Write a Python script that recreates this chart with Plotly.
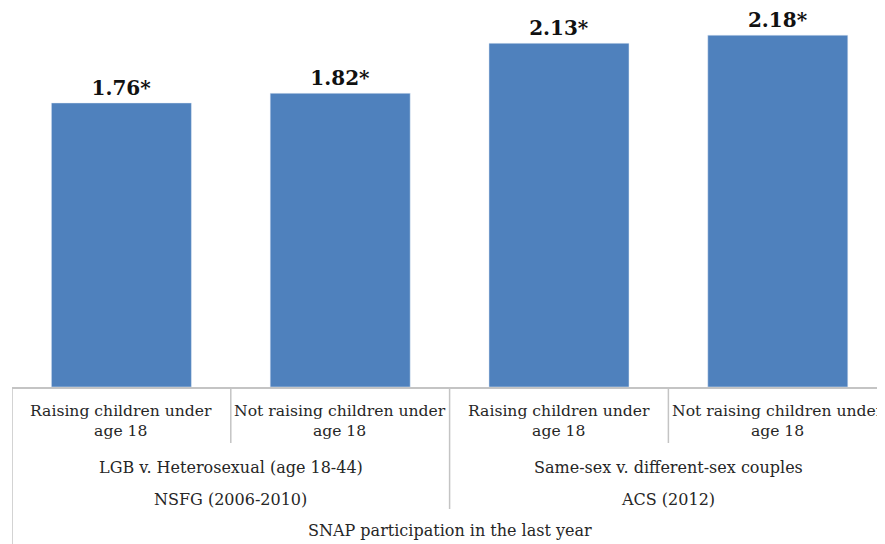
import plotly.graph_objects as go

categories = ["Raising children under<br>age 18", "Not raising children under<br>age 18",
              "Raising children under<br>age 18", "Not raising children under<br>age 18"]
values = [1.76, 1.82, 2.13, 2.18]
value_labels = ["1.76*", "1.82*", "2.13*", "2.18*"]
group_labels = ["LGB v. Heterosexual (age 18-44)", "Same-sex v. different-sex couples"]
source_labels = ["NSFG (2006-2010)", "ACS (2012)"]
outcome_label = "SNAP participation in the last year"

# the page body has an 8px margin, so the figure is offset by 8px
OFF = 8
W, H = 885 - OFF, 544 - OFF
PLOT_BOTTOM = 387 - OFF          # in figure pixels
PLOT_H = PLOT_BOTTOM
FONT = "DejaVu Serif"
TXT = "#262626"
GRID = "#c4c4c4"
PX_PER_UNIT = 161.4


def py(page_y):
    return (PLOT_BOTTOM - (page_y - OFF)) / PLOT_H


xs = list(range(len(values)))
fig = go.Figure(go.Bar(
    x=xs, y=values, width=0.64, marker_color="#4F81BD",
    text=value_labels, textposition="outside", cliponaxis=False,
    textfont=dict(family=FONT, size=20, color="#111111", weight="bold"),
))

ann = []
f = dict(family=FONT, size=16, color=TXT)
fc = dict(family=FONT, size=15.6, color=TXT)
for i, c in enumerate(categories):
    ann.append(dict(x=i, y=py(421), xref="x", yref="paper", text=c, showarrow=False,
                    font=fc, yanchor="middle"))
for g, lab in enumerate(group_labels):
    ann.append(dict(x=2 * g + 0.5, y=py(467), xref="x", yref="paper", text=lab, showarrow=False,
                    font=f, yanchor="middle"))
for g, lab in enumerate(source_labels):
    ann.append(dict(x=2 * g + 0.5, y=py(499), xref="x", yref="paper", text=lab, showarrow=False,
                    font=f, yanchor="middle"))
ann.append(dict(x=1.5, y=py(530), xref="x", yref="paper", text=outcome_label, showarrow=False,
                font=f, yanchor="middle"))

shapes = []
def vline(x, y_end_px):
    shapes.append(dict(type="line", xref="x", yref="paper", x0=x, x1=x, y0=0, y1=py(y_end_px),
                       line=dict(color=GRID, width=1.5)))
vline(-0.5, 546)
vline(0.5, 443)
vline(1.5, 509)
vline(2.5, 443)

fig.update_layout(
    width=W, height=H,
    margin=dict(l=12 - OFF, r=0, t=0, b=H - PLOT_BOTTOM, pad=0),
    paper_bgcolor="white", plot_bgcolor="white",
    showlegend=False,
    xaxis=dict(range=[-0.5, 3.49], showticklabels=False, showgrid=False, zeroline=False,
               showline=True, linecolor=GRID, linewidth=1.5, fixedrange=True),
    yaxis=dict(range=[0, PLOT_H / PX_PER_UNIT], visible=False, fixedrange=True),
    annotations=ann, shapes=shapes,
)
fig.write_html("out.html")
